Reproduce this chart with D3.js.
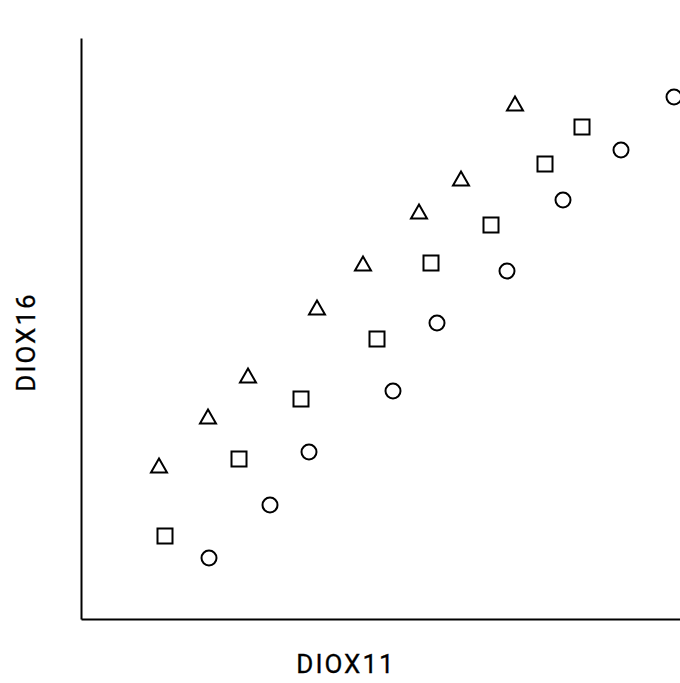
<!DOCTYPE html>
<html>
<head>
<meta charset="utf-8">
<style>
  body { margin: 0; background: #fff; }
  svg { display: block; }
</style>
</head>
<body>
<svg width="680" height="683"></svg>
<script src="https://d3js.org/d3.v7.min.js"></script>
<script>

// values (arbitrary units, no ticks on the original)
var triX = [7.8, 12.7, 16.7, 23.6, 28.2, 33.8, 38.0, 43.4],
    triY = [15.3, 20.2, 24.3, 31.1, 35.5, 40.7, 44.0, 51.5];

var sqX = [8.4, 15.8, 22.0, 29.6, 35.0, 41.0, 46.4, 50.1],
    sqY = [8.3, 16.0, 22.0, 28.0, 35.6, 39.4, 45.5, 49.2];

var cirX = [12.8, 18.9, 22.8, 31.2, 35.6, 42.6, 48.2, 54.0, 59.3],
    cirY = [6.1, 11.4, 16.7, 22.8, 29.6, 34.8, 41.9, 46.9, 52.2];

var xLabel = "DIOX11",
    yLabel = "DIOX16";

var svg = d3.select("svg"),
    margin = {top: 38, right: 0, bottom: 64, left: 81},
    width = +svg.attr("width"),
    height = +svg.attr("height");

var x = d3.scaleLinear().domain([0, 59.9]).range([margin.left, width - margin.right]),
    y = d3.scaleLinear().domain([0, 58.1]).range([height - margin.bottom, margin.top]);

// axes: plain lines, no ticks
svg.append("g")
    .attr("transform", "translate(0," + y(0) + ")")
    .call(d3.axisBottom(x).tickValues([]).tickSizeOuter(0))
    .select(".domain").attr("stroke-width", 2);

svg.append("g")
    .attr("transform", "translate(" + x(0) + ",0)")
    .call(d3.axisLeft(y).tickValues([]).tickSizeOuter(0))
    .select(".domain").attr("stroke-width", 2);

function zip(xs, ys) { return xs.map(function(v, i) { return [v, ys[i]]; }); }

var marks = svg.append("g")
    .attr("fill", "none")
    .attr("stroke", "#000")
    .attr("stroke-width", 2);

marks.selectAll(".tri")
  .data(zip(triX, triY))
  .enter().append("path")
    .attr("class", "tri")
    .attr("transform", function(d) { return "translate(" + x(d[0]) + "," + y(d[1]) + ")"; })
    .attr("d", "M0,-7.5L8,6.5L-8,6.5Z");

marks.selectAll(".sq")
  .data(zip(sqX, sqY))
  .enter().append("rect")
    .attr("class", "sq")
    .attr("x", function(d) { return x(d[0]) - 7.5; })
    .attr("y", function(d) { return y(d[1]) - 7.5; })
    .attr("width", 15)
    .attr("height", 15);

marks.selectAll(".cir")
  .data(zip(cirX, cirY))
  .enter().append("circle")
    .attr("class", "cir")
    .attr("cx", function(d) { return x(d[0]); })
    .attr("cy", function(d) { return y(d[1]); })
    .attr("r", 7.5);

var font = "Roboto, 'Liberation Sans', sans-serif";

svg.append("text")
    .attr("x", 346)
    .attr("y", 673)
    .attr("text-anchor", "middle")
    .attr("font-family", font)
    .attr("font-size", 26)
    .attr("letter-spacing", 2)
    .attr("stroke", "#000")
    .attr("stroke-width", 0.3)
    .text(xLabel);

svg.append("text")
    .attr("transform", "translate(35,342) rotate(-90)")
    .attr("text-anchor", "middle")
    .attr("font-family", font)
    .attr("font-size", 26)
    .attr("letter-spacing", 2)
    .attr("stroke", "#000")
    .attr("stroke-width", 0.3)
    .text(yLabel);

</script>
</body>
</html>
